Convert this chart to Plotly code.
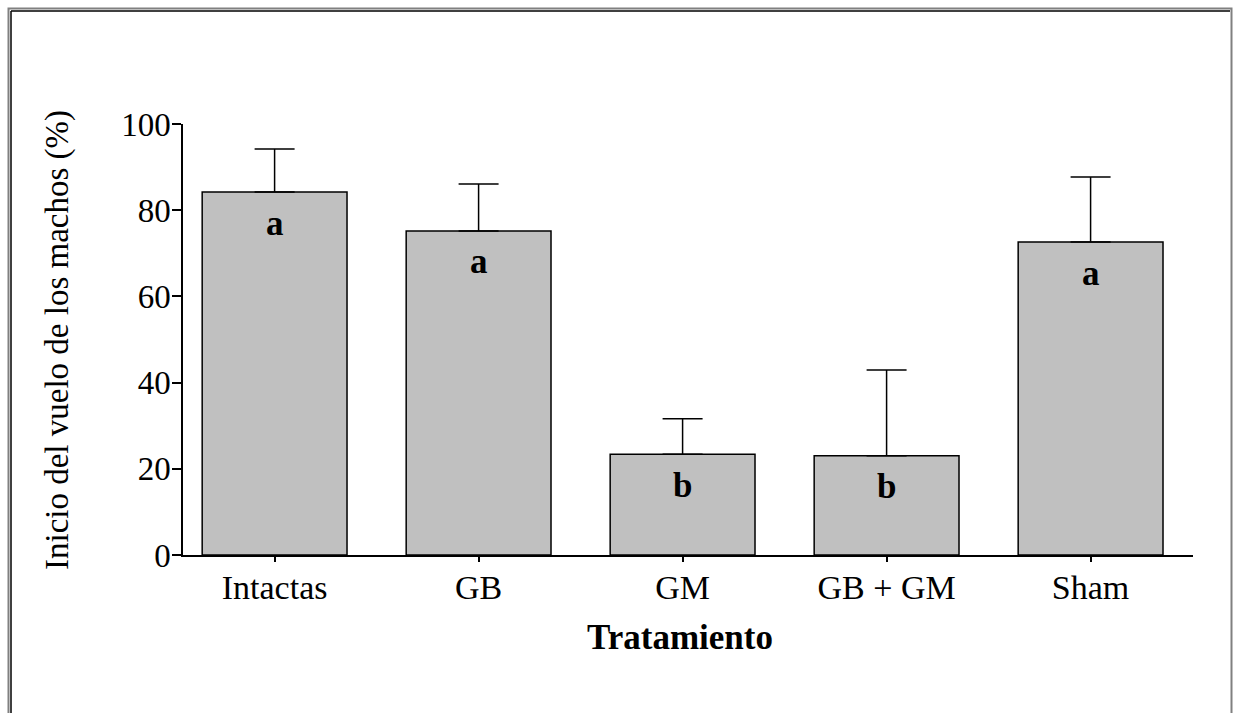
import plotly.graph_objects as go

categories = ["Intactas", "GB", "GM", "GB + GM", "Sham"]
values = [84.2, 75.2, 23.4, 23.0, 72.6]
errors_up = [10.0, 10.9, 8.2, 19.9, 15.1]
letters = ["a", "a", "b", "b", "a"]
y_ticks = [0, 20, 40, 60, 80, 100]

W, H = 1233, 713
L, R, T, B = 183, 40, 124, 158
pw, ph = W - L - R, H - T - B

def px(x):
    return (x - L) / pw

def py(y):
    return (H - B - y) / ph

FONT = "Liberation Serif, Times New Roman, serif"

fig = go.Figure()
fig.add_trace(go.Bar(
    x=categories, y=values, width=0.71,
    marker=dict(color="#c0c0c0", line=dict(color="black", width=1.5)),
    error_y=dict(type="data", array=errors_up, arrayminus=[0]*len(values),
                 symmetric=False, color="black", thickness=1.5, width=20),
    showlegend=False,
))

for c, v, l in zip(categories, values, letters):
    fig.add_annotation(x=c, y=v, text="<b>%s</b>" % l, showarrow=False,
                       yanchor="middle", yshift=-31,
                       font=dict(family=FONT, size=35, color="black"))

fig.add_annotation(xref="paper", yref="paper", x=px(57), y=py(340),
                   text="Inicio del vuelo de los machos (%)", textangle=-90,
                   showarrow=False, xanchor="center", yanchor="middle",
                   font=dict(family=FONT, size=33, color="black"))
fig.add_annotation(xref="paper", yref="paper", x=px(680), y=py(637),
                   text="<b>Tratamiento</b>", showarrow=False,
                   xanchor="center", yanchor="middle",
                   font=dict(family=FONT, size=35, color="black"))

shapes = [
    dict(type="rect", xref="paper", yref="paper", x0=px(8.5), x1=px(1231.5),
         y0=py(740), y1=py(8.5), line=dict(color="#808080", width=2)),
    dict(type="line", xref="paper", yref="paper", x0=px(11), x1=px(1230),
         y0=py(11), y1=py(11), line=dict(color="black", width=1.5)),
    dict(type="line", xref="paper", yref="paper", x0=px(11), x1=px(11),
         y0=py(740), y1=py(11), line=dict(color="black", width=1.5)),
]

fig.update_layout(
    width=W, height=H, margin=dict(l=L, r=R, t=T, b=B, pad=0),
    paper_bgcolor="white", plot_bgcolor="white",
    font=dict(family=FONT, color="black"),
    bargap=0.29, shapes=shapes,
    xaxis=dict(range=[-0.449, 4.502], showline=True, linecolor="black", linewidth=1.5,
               ticks="outside", ticklen=5, tickwidth=1.5, tickcolor="black",
               tickfont=dict(family=FONT, size=34, color="black"),
               ticklabelstandoff=-4,
               showgrid=False, zeroline=False, fixedrange=True),
    yaxis=dict(range=[0, 100], tickvals=y_ticks, showline=True, linecolor="black",
               linewidth=1.5, ticks="outside", ticklen=9, tickwidth=1.5,
               tickcolor="black", tickfont=dict(family=FONT, size=33, color="black"),
               ticklabelstandoff=-5,
               showgrid=False, zeroline=False, fixedrange=True),
)

fig.write_html("out.html", config={"displayModeBar": False})
